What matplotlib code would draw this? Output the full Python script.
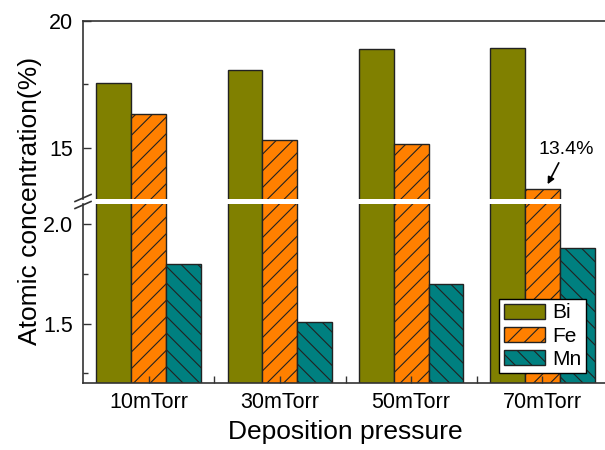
import matplotlib
matplotlib.use('Agg')
import matplotlib.pyplot as plt
from matplotlib.lines import Line2D
import numpy as np

plt.rcParams['font.family'] = ['Liberation Sans', 'DejaVu Sans']
plt.rcParams['hatch.linewidth'] = 0.8

# data
categories = ['10mTorr', '30mTorr', '50mTorr', '70mTorr']
bi = [17.55, 18.05, 18.90, 18.92]
fe = [16.35, 15.30, 15.15, 13.40]
mn = [1.80, 1.51, 1.70, 1.88]
series_names = ['Bi', 'Fe', 'Mn']

colors = ['#808000', '#FF8000', '#008080']
hatches = [None, '//', '\\\\']
edge = '#222222'

W, H = 605, 450
fig = plt.figure(figsize=(W / 100, H / 100), dpi=100)

left = 83 / W
width = (608 - 83) / W
ax_top = fig.add_axes([left, 1 - 199 / H, width, (199 - 20.7) / H])
ax_bot = fig.add_axes([left, 1 - 383.3 / H, width, (383.3 - 204) / H])

x = np.arange(len(categories))
bw = 0.266

for ax in (ax_top, ax_bot):
    for i, vals in enumerate([bi, fe, mn]):
        ax.bar(x + (i - 1) * bw, vals, bw, color=colors[i], hatch=hatches[i],
               edgecolor=edge, linewidth=1.0, label=series_names[i])
    ax.set_xlim(-0.5, 3.5)
    ax.spines['right'].set_visible(False)
    for s in ax.spines.values():
        s.set_color('#333333')
        s.set_linewidth(1.2)
    ax.tick_params(axis='both', which='both', direction='in', colors='#333333',
                   labelcolor='black', labelsize=15.5, width=1.0)
    ax.tick_params(axis='y', which='major', length=5.5, pad=7)
    ax.tick_params(axis='y', which='minor', length=3.5)

ax_top.set_ylim(13.0, 20.0)
ax_top.set_yticks([15, 20])
ax_top.set_yticks([17.5], minor=True)
ax_top.spines['bottom'].set_visible(False)
ax_top.tick_params(axis='x', which='both', bottom=False, labelbottom=False)

ax_bot.set_ylim(1.2, 2.1)
ax_bot.set_yticks([1.5, 2.0])
ax_bot.set_yticklabels(['1.5', '2.0'])
ax_bot.set_yticks([1.25, 1.75], minor=True)
ax_bot.spines['top'].set_visible(False)
ax_bot.set_xticks(x)
ax_bot.set_xticklabels(categories)
ax_bot.set_xticks(x[:-1] + 0.5, minor=True)
ax_bot.tick_params(axis='x', which='both', length=5, pad=6)

# break marks on the left spine
for yc in (198, 205):
    fig.add_artist(Line2D([(83 - 8) / W, (83 + 8) / W],
                          [1 - (yc + 3.5) / H, 1 - (yc - 3.5) / H],
                          color='#333333', linewidth=1.2))

# annotation for the Fe bar at 70mTorr
ax_top.text(3.18, 14.95, '13.4%', ha='center', va='center', fontsize=14)
ax_top.annotate('', xy=(3.04, 13.58), xytext=(3.125, 14.42),
                arrowprops=dict(arrowstyle='-|>', color='black', lw=1.2,
                                mutation_scale=10, shrinkA=0, shrinkB=0))

leg = ax_bot.legend(loc='lower right', bbox_to_anchor=(586 / W, 1 - 373 / H),
                    bbox_transform=fig.transFigure, borderaxespad=0,
                    fontsize=15, handlelength=2.0, handleheight=0.7,
                    labelspacing=0.2, handletextpad=0.35, borderpad=0.2,
                    fancybox=False, framealpha=1, edgecolor='black')
leg.get_frame().set_linewidth(1.0)

fig.text(30 / W, 1 - 201 / H, 'Atomic concentration(%)', rotation=90,
         ha='center', va='center', fontsize=19)
fig.text(345 / W, 1 - 432 / H, 'Deposition pressure', ha='center',
         va='center', fontsize=19)

fig.savefig('out.png', dpi=100)
